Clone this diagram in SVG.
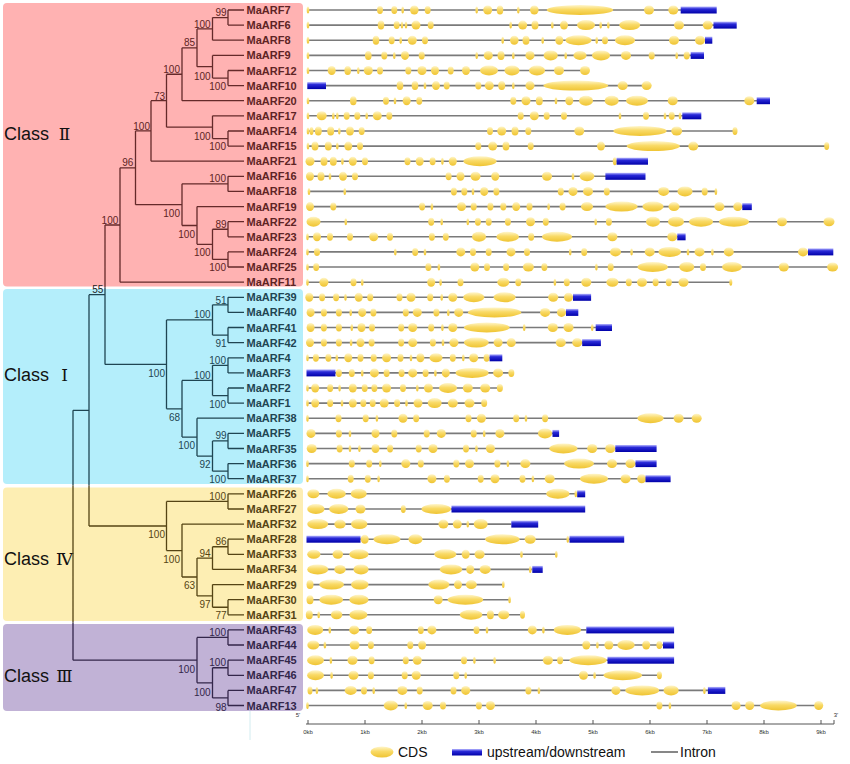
<svg xmlns="http://www.w3.org/2000/svg" width="850" height="764" viewBox="0 0 850 764">
<defs>
<linearGradient id="gc" x1="0" y1="0" x2="0" y2="1"><stop offset="0" stop-color="#fff6cc"/><stop offset="0.45" stop-color="#f9da66"/><stop offset="1" stop-color="#efc433"/></linearGradient>
<linearGradient id="gb" x1="0" y1="0" x2="0" y2="1"><stop offset="0" stop-color="#b8b8ff"/><stop offset="0.35" stop-color="#2a2ad8"/><stop offset="1" stop-color="#0000a8"/></linearGradient>
</defs>
<style>
.lb{font-family:"Liberation Sans",Arial,sans-serif;font-weight:bold;font-size:11px}
.bs{font-family:"Liberation Sans",Arial,sans-serif;font-size:10px;text-anchor:end}
.cl{font-family:"Liberation Sans",Arial,sans-serif;font-size:18px;fill:#111}
.rn{font-family:"DejaVu Serif","Liberation Serif","Noto Sans CJK SC",serif;font-size:17px;text-anchor:middle}
.k2{fill:#5e2424}.k1{fill:#1f4552}.k4{fill:#554414}.k3{fill:#33264a}
.tr{fill:none;stroke-width:1.3}
.in{stroke:#7a7a7a;stroke-width:1.6}
ellipse{fill:url(#gc)}
.ud{fill:url(#gb)}
.ax{font-family:"Liberation Sans",Arial,sans-serif;font-size:6px;fill:#333;text-anchor:middle}
.lg{font-family:"Liberation Sans",Arial,sans-serif;font-size:14px;fill:#111}
</style>
<rect width="850" height="764" fill="#fff"/>
<g id="classes">
<rect x="3" y="3" width="300" height="283.5" rx="4" fill="#ffb2b2"/>
<rect x="3" y="289" width="300" height="195" rx="4" fill="#b4eefb"/>
<rect x="3" y="487.5" width="300" height="133.5" rx="4" fill="#fdeeb3"/>
<rect x="3" y="624" width="300" height="87" rx="4" fill="#c1b2d6"/>
<text class="cl" x="4" y="139.5">Class <tspan class="rn" x="64.5">Ⅱ</tspan></text>
<text class="cl" x="4" y="381">Class <tspan class="rn" x="64.5">Ⅰ</tspan></text>
<text class="cl" x="4" y="565">Class <tspan class="rn" x="64.5">Ⅳ</tspan></text>
<text class="cl" x="4" y="682">Class <tspan class="rn" x="64.5">Ⅲ</tspan></text>
<line x1="250" y1="711" x2="250" y2="740" stroke="#d2ecf0" stroke-width="1"/>
</g>
<g id="connectors">
<path class="tr" stroke="#642a2a" d="M228 10V25.1M228 10H244M228 25.1H244M212.5 17.55V40.2M212.5 17.55H228M212.5 40.2H244M228 70.5V85.6M228 70.5H244M228 85.6H244M212.5 55.4V78.05M212.5 55.4H244M212.5 78.05H228M197 28.9V66.7M197 28.9H212.5M197 66.7H212.5M182 47.8V100.7M182 47.8H197M182 100.7H244M228 131V146.1M228 131H244M228 146.1H244M212.5 115.8V138.55M212.5 115.8H244M212.5 138.55H228M166.5 74.25V127.2M166.5 74.25H182M166.5 127.2H212.5M151 100.7V161.2M151 100.7H166.5M151 161.2H244M228 176.3V191.4M228 176.3H244M228 191.4H244M228 221.7V236.8M228 221.7H244M228 236.8H244M228 251.9V267M228 251.9H244M228 267H244M212.5 229.25V259.45M212.5 229.25H228M212.5 259.45H228M197 206.6V244.35M197 206.6H244M197 244.35H212.5M182 183.85V225.5M182 183.85H228M182 225.5H197M135.5 130.95V204.7M135.5 130.95H151M135.5 204.7H182M120 167.8V282.2M120 167.8H135.5M120 282.2H244M105 225V287.5M105 225H120"/>
<path class="tr" stroke="#1f4552" d="M105 287.5V364.4M105 364.4H166.5M228 297.3V312.4M228 297.3H244M228 312.4H244M228 327.5V342.6M228 327.5H244M228 342.6H244M212.5 304.85V335.05M212.5 304.85H228M212.5 335.05H228M228 357.8V372.9M228 357.8H244M228 372.9H244M228 388V403.1M228 388H244M228 403.1H244M212.5 365.35V395.55M212.5 365.35H228M212.5 395.55H228M228 433.4V448.5M228 433.4H244M228 448.5H244M228 463.6V478.7M228 463.6H244M228 478.7H244M212.5 440.95V471.15M212.5 440.95H228M212.5 471.15H228M197 418.2V456.05M197 418.2H244M197 456.05H212.5M182 380.45V437.1M182 380.45H212.5M182 437.1H197M166.5 319.95V408.8M166.5 319.95H212.5M166.5 408.8H182M89 294.7H105M89 294.7V485.5M73 410.35H89M73 410.35V485.5"/>
<path class="tr" stroke="#554414" d="M89 485.5V526M89 526H166.5M73 485.5V622.5M228 493.8V509M228 493.8H244M228 509H244M228 539.2V554.3M228 539.2H244M228 554.3H244M212.5 546.75V569.4M212.5 546.75H228M212.5 569.4H244M228 599.7V614.8M228 599.7H244M228 614.8H244M212.5 584.6V607.25M212.5 584.6H244M212.5 607.25H228M197 558.1V595.9M197 558.1H212.5M197 595.9H212.5M182 524.1V577M182 524.1H244M182 577H197M166.5 501.4V550.55M166.5 501.4H228M166.5 550.55H182"/>
<path class="tr" stroke="#33264a" d="M73 622.5V660.15M73 660.15H197M228 629.9V645M228 629.9H244M228 645H244M228 660.2V675.3M228 660.2H244M228 675.3H244M228 690.4V705.5M228 690.4H244M228 705.5H244M212.5 667.75V697.95M212.5 667.75H228M212.5 697.95H228M197 637.45V682.85M197 637.45H228M197 682.85H212.5"/>
</g>
<g id="bootstrap">
<g class="bs k2">
<text x="226.5" y="16">99</text><text x="210.7" y="27.8">100</text><text x="195" y="46">85</text><text x="210.7" y="79.5">100</text><text x="226" y="89.5">100</text><text x="180" y="72.5">100</text><text x="165" y="99.5">73</text><text x="150" y="129.5">100</text><text x="210.7" y="139.5">100</text><text x="226" y="150">100</text><text x="133.3" y="166">96</text><text x="226" y="182">100</text><text x="180" y="216.5">100</text><text x="195" y="237.5">100</text><text x="226.5" y="227.5">89</text><text x="210.7" y="256">100</text><text x="226" y="271">100</text><text x="118.3" y="223.5">100</text>
</g>
<text class="bs" fill="#222" x="103.3" y="292.5">55</text>
<g class="bs k1">
<text x="226.5" y="303.5">51</text><text x="210.7" y="317.5">100</text><text x="226.5" y="347">91</text><text x="165" y="377">100</text><text x="226" y="363.5">100</text><text x="210.7" y="378.5">100</text><text x="226" y="407.5">100</text><text x="180" y="421">68</text><text x="226.5" y="439.3">99</text><text x="195" y="449.3">100</text><text x="210.7" y="467.5">92</text><text x="226" y="482.5">100</text>
</g>
<g class="bs k4">
<text x="226" y="499.5">100</text><text x="165" y="537.5">100</text><text x="226.5" y="545">86</text><text x="180" y="562.5">100</text><text x="210.7" y="556.7">94</text><text x="195" y="589.3">63</text><text x="210.7" y="607.7">97</text><text x="226.5" y="619.3">77</text>
</g>
<g class="bs k3">
<text x="226" y="636">100</text><text x="195" y="672.5">100</text><text x="226" y="666">100</text><text x="210.7" y="695.5">100</text><text x="226.5" y="710.5">98</text>
</g>
</g>
<g id="genes">
<g id="MaARF7" transform="translate(0,10)"><text class="lb k2" x="246.5" y="4">MaARF7</text><line class="in" x1="308" x2="681"/><ellipse cx="308" rx="1.3" ry="3.5"/><ellipse cx="380" rx="3" ry="4"/><ellipse cx="394.3" rx="3" ry="4"/><ellipse cx="402.7" rx="1.3" ry="3.5"/><ellipse cx="414.3" rx="4.3" ry="4.5"/><ellipse cx="427.7" rx="3" ry="4"/><ellipse cx="476.7" rx="1.3" ry="3.5"/><ellipse cx="487.7" rx="4.5" ry="4.5"/><ellipse cx="500" rx="3.3" ry="4.5"/><ellipse cx="518.3" rx="1.3" ry="3.5"/><ellipse cx="534.3" rx="4.3" ry="4.5"/><ellipse cx="580" rx="33.3" ry="5"/><ellipse cx="649" rx="5" ry="4.5"/><ellipse cx="673.3" rx="5" ry="4.5"/><rect class="ud" x="680.7" y="-3.5" width="36" height="7"/></g>
<g id="MaARF6" transform="translate(0,25.1)"><text class="lb k2" x="246.5" y="4">MaARF6</text><line class="in" x1="308" x2="714"/><ellipse cx="308" rx="1.3" ry="3.5"/><ellipse cx="381" rx="3.3" ry="4.5"/><ellipse cx="396.7" rx="3" ry="4"/><ellipse cx="402" rx="1.3" ry="3.5"/><ellipse cx="406" rx="1.3" ry="3.5"/><ellipse cx="416" rx="4.5" ry="4.5"/><ellipse cx="430.7" rx="3" ry="4"/><ellipse cx="510.7" rx="1.3" ry="3.5"/><ellipse cx="522.7" rx="4.5" ry="4.5"/><ellipse cx="535" rx="3.5" ry="4.5"/><ellipse cx="552.3" rx="1.3" ry="3.5"/><ellipse cx="564" rx="4" ry="4.5"/><ellipse cx="586" rx="9" ry="5"/><ellipse cx="600.7" rx="1.3" ry="3.5"/><ellipse cx="608.3" rx="1.3" ry="3.5"/><ellipse cx="629.7" rx="10.5" ry="5"/><ellipse cx="679" rx="5" ry="4.5"/><ellipse cx="707.7" rx="5" ry="4.5"/><rect class="ud" x="713.5" y="-3.5" width="23.2" height="7"/></g>
<g id="MaARF8" transform="translate(0,40.2)"><text class="lb k2" x="246.5" y="4">MaARF8</text><line class="in" x1="308" x2="705"/><ellipse cx="308" rx="1.3" ry="3.5"/><ellipse cx="376" rx="3.3" ry="4.5"/><ellipse cx="391.7" rx="3" ry="4"/><ellipse cx="400.7" rx="1.3" ry="3.5"/><ellipse cx="412.3" rx="4.5" ry="4.5"/><ellipse cx="425" rx="3" ry="4"/><ellipse cx="502.7" rx="1.3" ry="3.5"/><ellipse cx="514.3" rx="4.3" ry="4.5"/><ellipse cx="526" rx="3.5" ry="4.5"/><ellipse cx="542.7" rx="1.3" ry="3.5"/><ellipse cx="559.3" rx="4" ry="4.5"/><ellipse cx="578.5" rx="13" ry="5"/><ellipse cx="596.7" rx="1.3" ry="3.5"/><ellipse cx="605" rx="3" ry="4"/><ellipse cx="625" rx="10" ry="5"/><ellipse cx="674" rx="5" ry="4.5"/><ellipse cx="700" rx="5" ry="4.5"/><rect class="ud" x="705" y="-3.5" width="7.3" height="7"/></g>
<g id="MaARF9" transform="translate(0,55.4)"><text class="lb k2" x="246.5" y="4">MaARF9</text><line class="in" x1="308" x2="691"/><ellipse cx="308" rx="1.3" ry="3.5"/><ellipse cx="368.3" rx="3.3" ry="4.5"/><ellipse cx="384.3" rx="3" ry="4"/><ellipse cx="394.3" rx="1.3" ry="3.5"/><ellipse cx="405" rx="4" ry="4.5"/><ellipse cx="421.7" rx="3" ry="4"/><ellipse cx="476.7" rx="1.3" ry="3.5"/><ellipse cx="488.3" rx="4.5" ry="4.5"/><ellipse cx="501" rx="3.5" ry="4.5"/><ellipse cx="513.3" rx="1.3" ry="3.5"/><ellipse cx="530" rx="4.5" ry="4.5"/><ellipse cx="550.7" rx="7" ry="5"/><ellipse cx="565.7" rx="1.3" ry="3.5"/><ellipse cx="580" rx="6.5" ry="4.5"/><ellipse cx="601" rx="9" ry="5"/><ellipse cx="626" rx="5" ry="4.5"/><ellipse cx="651.7" rx="3" ry="4"/><ellipse cx="676.7" rx="1.3" ry="3.5"/><ellipse cx="686.7" rx="3" ry="4"/><rect class="ud" x="690.7" y="-3.5" width="13.3" height="7"/></g>
<g id="MaARF12" transform="translate(0,70.5)"><text class="lb k2" x="246.5" y="4">MaARF12</text><line class="in" x1="308" x2="588"/><ellipse cx="308" rx="1.3" ry="3.5"/><ellipse cx="331.7" rx="4" ry="4.5"/><ellipse cx="347.7" rx="3.3" ry="4.5"/><ellipse cx="358.3" rx="1.3" ry="3.5"/><ellipse cx="368.3" rx="4.5" ry="4.5"/><ellipse cx="380" rx="3" ry="4"/><ellipse cx="408.3" rx="3" ry="4"/><ellipse cx="422" rx="4.5" ry="4.5"/><ellipse cx="435" rx="4" ry="4.5"/><ellipse cx="450.7" rx="3" ry="4"/><ellipse cx="466" rx="4" ry="4.5"/><ellipse cx="489" rx="9" ry="5"/><ellipse cx="512" rx="7.5" ry="5"/><ellipse cx="537" rx="8" ry="5"/><ellipse cx="559" rx="5" ry="4.5"/><ellipse cx="585" rx="5" ry="4.5"/></g>
<g id="MaARF10" transform="translate(0,85.6)"><text class="lb k2" x="246.5" y="4">MaARF10</text><line class="in" x1="308" x2="647"/><rect class="ud" x="307.3" y="-3.5" width="18.7" height="7"/><ellipse cx="400" rx="3.3" ry="4.5"/><ellipse cx="415" rx="3.3" ry="4.5"/><ellipse cx="425" rx="1.3" ry="3.5"/><ellipse cx="436" rx="4" ry="4.5"/><ellipse cx="446.7" rx="3" ry="4"/><ellipse cx="478.3" rx="3" ry="4"/><ellipse cx="489.3" rx="4.5" ry="4.5"/><ellipse cx="501.7" rx="3.5" ry="4.5"/><ellipse cx="513.3" rx="1.3" ry="3.5"/><ellipse cx="530" rx="4.5" ry="4.5"/><ellipse cx="575.8" rx="32.5" ry="5"/><ellipse cx="622.7" rx="5" ry="4.5"/><ellipse cx="646.7" rx="5" ry="4.5"/></g>
<g id="MaARF20" transform="translate(0,100.7)"><text class="lb k2" x="246.5" y="4">MaARF20</text><line class="in" x1="308" x2="757"/><ellipse cx="308" rx="1.3" ry="3.5"/><ellipse cx="353.3" rx="3.3" ry="4.5"/><ellipse cx="386" rx="3" ry="4"/><ellipse cx="395" rx="1.3" ry="3.5"/><ellipse cx="406.7" rx="4" ry="4.5"/><ellipse cx="419.3" rx="3" ry="4"/><ellipse cx="513.3" rx="3" ry="4"/><ellipse cx="526" rx="4.5" ry="4.5"/><ellipse cx="539.3" rx="3.5" ry="4.5"/><ellipse cx="556" rx="1.3" ry="3.5"/><ellipse cx="569.3" rx="4" ry="4.5"/><ellipse cx="586" rx="7" ry="5"/><ellipse cx="611.7" rx="7" ry="5"/><ellipse cx="637" rx="11" ry="5"/><ellipse cx="672.7" rx="5" ry="4.5"/><ellipse cx="749.3" rx="5" ry="4.5"/><rect class="ud" x="756.7" y="-3.5" width="13.3" height="7"/></g>
<g id="MaARF17" transform="translate(0,115.8)"><text class="lb k2" x="246.5" y="4">MaARF17</text><line class="in" x1="308" x2="683"/><ellipse cx="308" rx="1.3" ry="3.5"/><ellipse cx="321.7" rx="5" ry="4.5"/><ellipse cx="333.3" rx="1.3" ry="3.5"/><ellipse cx="337.3" rx="1.3" ry="3.5"/><ellipse cx="346.7" rx="3" ry="4"/><ellipse cx="357.3" rx="3" ry="4"/><ellipse cx="366.7" rx="1.3" ry="3.5"/><ellipse cx="377.3" rx="4.5" ry="4.5"/><ellipse cx="389.3" rx="3" ry="4"/><ellipse cx="520.7" rx="3" ry="4"/><ellipse cx="534.3" rx="4.5" ry="4.5"/><ellipse cx="546.7" rx="3" ry="4"/><ellipse cx="564" rx="3" ry="4"/><ellipse cx="620" rx="1.3" ry="3.5"/><ellipse cx="646" rx="3" ry="4"/><ellipse cx="665" rx="1.3" ry="3.5"/><ellipse cx="671.7" rx="3" ry="4"/><ellipse cx="680" rx="1.3" ry="3.5"/><rect class="ud" x="682.3" y="-3.5" width="19" height="7"/></g>
<g id="MaARF14" transform="translate(0,131)"><text class="lb k2" x="246.5" y="4">MaARF14</text><line class="in" x1="308" x2="735"/><ellipse cx="308" rx="1.3" ry="3.5"/><ellipse cx="311.5" rx="2" ry="4"/><ellipse cx="318.3" rx="3.5" ry="4.5"/><ellipse cx="330.7" rx="3.5" ry="4.5"/><ellipse cx="339.3" rx="1.3" ry="3.5"/><ellipse cx="350" rx="4" ry="4.5"/><ellipse cx="361.7" rx="3" ry="4"/><ellipse cx="490" rx="3" ry="4"/><ellipse cx="501.7" rx="4.5" ry="4.5"/><ellipse cx="515" rx="3.5" ry="4.5"/><ellipse cx="528.3" rx="3" ry="4"/><ellipse cx="579.3" rx="5" ry="4.5"/><ellipse cx="640" rx="26.7" ry="5"/><ellipse cx="676.7" rx="5.5" ry="4.5"/><ellipse cx="735" rx="2.5" ry="4"/></g>
<g id="MaARF15" transform="translate(0,146.1)"><text class="lb k2" x="246.5" y="4">MaARF15</text><line class="in" x1="308" x2="826.7"/><ellipse cx="308" rx="1.3" ry="3.5"/><ellipse cx="315" rx="3.5" ry="4.5"/><ellipse cx="328.3" rx="3.5" ry="4.5"/><ellipse cx="337.3" rx="1.3" ry="3.5"/><ellipse cx="348.3" rx="4" ry="4.5"/><ellipse cx="360" rx="3" ry="4"/><ellipse cx="478.3" rx="3" ry="4"/><ellipse cx="492.7" rx="4.5" ry="4.5"/><ellipse cx="506" rx="3.5" ry="4.5"/><ellipse cx="530.7" rx="3" ry="4"/><ellipse cx="601" rx="4" ry="4.5"/><ellipse cx="653.3" rx="26.7" ry="5"/><ellipse cx="693.3" rx="5" ry="4.5"/><ellipse cx="826.7" rx="2.5" ry="4"/></g>
<g id="MaARF21" transform="translate(0,161.2)"><text class="lb k2" x="246.5" y="4">MaARF21</text><line class="in" x1="307" x2="617"/><ellipse cx="310" rx="4.5" ry="4.5"/><ellipse cx="324" rx="3.5" ry="4.5"/><ellipse cx="333.3" rx="3.5" ry="4.5"/><ellipse cx="342.4" rx="1.3" ry="3.5"/><ellipse cx="352.8" rx="4" ry="4.5"/><ellipse cx="365" rx="3" ry="4"/><ellipse cx="407.5" rx="3" ry="4"/><ellipse cx="419.7" rx="4" ry="4.5"/><ellipse cx="432.6" rx="3" ry="4"/><ellipse cx="442.4" rx="1.3" ry="3.5"/><ellipse cx="452.8" rx="4" ry="4.5"/><ellipse cx="480" rx="16.5" ry="5"/><ellipse cx="614.8" rx="2" ry="4"/><rect class="ud" x="616.6" y="-3.5" width="31.4" height="7"/></g>
<g id="MaARF16" transform="translate(0,176.3)"><text class="lb k2" x="246.5" y="4">MaARF16</text><line class="in" x1="307" x2="606"/><ellipse cx="310" rx="4" ry="4.5"/><ellipse cx="321" rx="3.5" ry="4.5"/><ellipse cx="330" rx="1.3" ry="3.5"/><ellipse cx="343" rx="4" ry="4.5"/><ellipse cx="355" rx="3" ry="4"/><ellipse cx="448.6" rx="3" ry="4"/><ellipse cx="460.5" rx="4" ry="4.5"/><ellipse cx="475.5" rx="5" ry="4.5"/><ellipse cx="495.3" rx="4" ry="4.5"/><ellipse cx="547" rx="5" ry="4.5"/><ellipse cx="573" rx="1.3" ry="3.5"/><ellipse cx="587" rx="7.3" ry="5"/><rect class="ud" x="605.4" y="-3.5" width="40.1" height="7"/></g>
<g id="MaARF18" transform="translate(0,191.4)"><text class="lb k2" x="246.5" y="4">MaARF18</text><line class="in" x1="308" x2="716"/><ellipse cx="309" rx="1.3" ry="3.5"/><ellipse cx="344.8" rx="1.3" ry="3.5"/><ellipse cx="453.9" rx="3" ry="4"/><ellipse cx="464.3" rx="3" ry="4"/><ellipse cx="473" rx="1.3" ry="3.5"/><ellipse cx="484.2" rx="4" ry="4.5"/><ellipse cx="496.4" rx="3" ry="4"/><ellipse cx="560.8" rx="3" ry="4"/><ellipse cx="573" rx="4.5" ry="4.5"/><ellipse cx="588" rx="5" ry="4.5"/><ellipse cx="606.8" rx="3" ry="4"/><ellipse cx="663.6" rx="5.5" ry="4.5"/><ellipse cx="685" rx="7.5" ry="5"/><ellipse cx="704.7" rx="3" ry="4"/><ellipse cx="715.9" rx="1.3" ry="3.5"/></g>
<g id="MaARF19" transform="translate(0,206.6)"><text class="lb k2" x="246.5" y="4">MaARF19</text><line class="in" x1="307" x2="743"/><ellipse cx="310" rx="4" ry="4.5"/><ellipse cx="333.3" rx="3" ry="4"/><ellipse cx="422.1" rx="3" ry="4"/><ellipse cx="431.9" rx="1.3" ry="3.5"/><ellipse cx="461.5" rx="4.5" ry="4.5"/><ellipse cx="473.7" rx="3" ry="4"/><ellipse cx="490.4" rx="3" ry="4"/><ellipse cx="503.3" rx="3" ry="4"/><ellipse cx="516.2" rx="4" ry="4.5"/><ellipse cx="529.5" rx="3" ry="4"/><ellipse cx="548.6" rx="1.3" ry="3.5"/><ellipse cx="562.6" rx="3" ry="4"/><ellipse cx="587" rx="6" ry="4.5"/><ellipse cx="621.5" rx="16" ry="5"/><ellipse cx="653" rx="10.5" ry="5"/><ellipse cx="674" rx="5.5" ry="4.5"/><ellipse cx="719.4" rx="5" ry="4.5"/><ellipse cx="737.8" rx="4.5" ry="4.5"/><rect class="ud" x="742.3" y="-3.5" width="9.5" height="7"/></g>
<g id="MaARF22" transform="translate(0,221.7)"><text class="lb k2" x="246.5" y="4">MaARF22</text><line class="in" x1="307" x2="830"/><ellipse cx="313.5" rx="7" ry="5"/><ellipse cx="345.8" rx="1.3" ry="3.5"/><ellipse cx="431.2" rx="3" ry="4"/><ellipse cx="441.7" rx="1.3" ry="3.5"/><ellipse cx="467.8" rx="1.3" ry="3.5"/><ellipse cx="477.9" rx="3" ry="4"/><ellipse cx="488.7" rx="3" ry="4"/><ellipse cx="507.9" rx="3" ry="4"/><ellipse cx="530.5" rx="4.5" ry="4.5"/><ellipse cx="545.8" rx="3" ry="4"/><ellipse cx="595.7" rx="1.3" ry="3.5"/><ellipse cx="608.9" rx="3" ry="4"/><ellipse cx="653" rx="7" ry="5"/><ellipse cx="676" rx="8" ry="5"/><ellipse cx="701" rx="12" ry="5"/><ellipse cx="734" rx="15" ry="5"/><ellipse cx="782" rx="5" ry="4.5"/><ellipse cx="829" rx="5.5" ry="4.5"/></g>
<g id="MaARF23" transform="translate(0,236.8)"><text class="lb k2" x="246.5" y="4">MaARF23</text><line class="in" x1="307.5" x2="678"/><ellipse cx="307.5" rx="1.3" ry="3.5"/><ellipse cx="317" rx="4" ry="4.5"/><ellipse cx="330" rx="3" ry="4"/><ellipse cx="350" rx="3" ry="4"/><ellipse cx="373.7" rx="4.5" ry="4.5"/><ellipse cx="390" rx="3" ry="4"/><ellipse cx="431.9" rx="3" ry="4"/><ellipse cx="445.8" rx="3" ry="4"/><ellipse cx="479" rx="7" ry="5"/><ellipse cx="507.7" rx="11.3" ry="5"/><ellipse cx="531.2" rx="3" ry="4"/><ellipse cx="557" rx="15" ry="5"/><ellipse cx="612.4" rx="5" ry="4.5"/><ellipse cx="672.3" rx="5" ry="4.5"/><rect class="ud" x="677.3" y="-3.5" width="8.3" height="7"/></g>
<g id="MaARF24" transform="translate(0,251.9)"><text class="lb k2" x="246.5" y="4">MaARF24</text><line class="in" x1="307.5" x2="809"/><ellipse cx="307.5" rx="1.3" ry="3.5"/><ellipse cx="317" rx="3" ry="4"/><ellipse cx="395.3" rx="1.3" ry="3.5"/><ellipse cx="415.2" rx="3" ry="4"/><ellipse cx="425" rx="1.3" ry="3.5"/><ellipse cx="460.8" rx="4.5" ry="4.5"/><ellipse cx="473" rx="3" ry="4"/><ellipse cx="488.7" rx="3" ry="4"/><ellipse cx="511" rx="4.5" ry="4.5"/><ellipse cx="527" rx="3" ry="4"/><ellipse cx="570.2" rx="1.3" ry="3.5"/><ellipse cx="584.2" rx="3" ry="4"/><ellipse cx="615.5" rx="5.5" ry="4.5"/><ellipse cx="631.6" rx="1.3" ry="3.5"/><ellipse cx="649.7" rx="5" ry="4.5"/><ellipse cx="669.7" rx="11.3" ry="5"/><ellipse cx="688" rx="1.3" ry="3.5"/><ellipse cx="699.5" rx="5" ry="4.5"/><ellipse cx="712.4" rx="1.3" ry="3.5"/><ellipse cx="728.8" rx="5" ry="4.5"/><ellipse cx="803" rx="5" ry="4.5"/><rect class="ud" x="808" y="-3.5" width="25.3" height="7"/></g>
<g id="MaARF25" transform="translate(0,267)"><text class="lb k2" x="246.5" y="4">MaARF25</text><line class="in" x1="307.5" x2="833"/><ellipse cx="307.5" rx="1.3" ry="3.5"/><ellipse cx="316.2" rx="3" ry="4"/><ellipse cx="428.4" rx="3" ry="4"/><ellipse cx="438.9" rx="1.3" ry="3.5"/><ellipse cx="474.8" rx="4.5" ry="4.5"/><ellipse cx="487" rx="3" ry="4"/><ellipse cx="506.1" rx="3" ry="4"/><ellipse cx="528.4" rx="5.5" ry="4.5"/><ellipse cx="544.4" rx="3" ry="4"/><ellipse cx="596.4" rx="1.3" ry="3.5"/><ellipse cx="610.7" rx="3" ry="4"/><ellipse cx="652.7" rx="15.2" ry="5"/><ellipse cx="686.8" rx="7.5" ry="5"/><ellipse cx="703" rx="3" ry="4"/><ellipse cx="732" rx="10" ry="5"/><ellipse cx="783.8" rx="5" ry="4.5"/><ellipse cx="832.6" rx="5.5" ry="4.5"/></g>
<g id="MaARF11" transform="translate(0,282.2)"><text class="lb k2" x="246.5" y="4">MaARF11</text><line class="in" x1="307.5" x2="731"/><ellipse cx="307.5" rx="1.3" ry="3.5"/><ellipse cx="323.9" rx="4.5" ry="4.5"/><ellipse cx="353.5" rx="3" ry="4"/><ellipse cx="362.2" rx="1.3" ry="3.5"/><ellipse cx="431.2" rx="4" ry="4.5"/><ellipse cx="440.6" rx="1.3" ry="3.5"/><ellipse cx="460.5" rx="3" ry="4"/><ellipse cx="503.3" rx="6" ry="4.5"/><ellipse cx="518.3" rx="3" ry="4"/><ellipse cx="554.9" rx="1.3" ry="3.5"/><ellipse cx="566.8" rx="3" ry="4"/><ellipse cx="586.3" rx="5" ry="4.5"/><ellipse cx="612.4" rx="6" ry="4.5"/><ellipse cx="628.8" rx="3" ry="4"/><ellipse cx="642" rx="5" ry="4.5"/><ellipse cx="655.6" rx="3" ry="4"/><ellipse cx="668.8" rx="3" ry="4"/><ellipse cx="683.5" rx="5" ry="4.5"/><ellipse cx="730.8" rx="1.5" ry="3.5"/></g>
<g id="MaARF39" transform="translate(0,297.3)"><text class="lb k1" x="246.5" y="4">MaARF39</text><line class="in" x1="307" x2="574"/><ellipse cx="309.3" rx="4" ry="4.5"/><ellipse cx="322.1" rx="3" ry="4"/><ellipse cx="336.1" rx="3" ry="4"/><ellipse cx="345.5" rx="1.3" ry="3.5"/><ellipse cx="358.7" rx="4" ry="4.5"/><ellipse cx="370.2" rx="3" ry="4"/><ellipse cx="399.5" rx="3" ry="4"/><ellipse cx="411" rx="4.5" ry="4.5"/><ellipse cx="430.2" rx="3" ry="4"/><ellipse cx="441.7" rx="1.3" ry="3.5"/><ellipse cx="452.8" rx="4.5" ry="4.5"/><ellipse cx="473.8" rx="10.5" ry="5"/><ellipse cx="504.6" rx="11" ry="5"/><ellipse cx="553.2" rx="5" ry="4.5"/><ellipse cx="568.5" rx="4.5" ry="4.5"/><rect class="ud" x="573" y="-3.5" width="18.1" height="7"/></g>
<g id="MaARF40" transform="translate(0,312.4)"><text class="lb k1" x="246.5" y="4">MaARF40</text><line class="in" x1="307" x2="567"/><ellipse cx="310.6" rx="4" ry="4.5"/><ellipse cx="323.9" rx="3" ry="4"/><ellipse cx="338.9" rx="3" ry="4"/><ellipse cx="350.7" rx="1.3" ry="3.5"/><ellipse cx="362.2" rx="4" ry="4.5"/><ellipse cx="373.4" rx="3" ry="4"/><ellipse cx="405.8" rx="3" ry="4"/><ellipse cx="417.3" rx="4.5" ry="4.5"/><ellipse cx="436.4" rx="3" ry="4"/><ellipse cx="448.3" rx="1.3" ry="3.5"/><ellipse cx="458.7" rx="4.5" ry="4.5"/><ellipse cx="494.6" rx="26.8" ry="5"/><ellipse cx="545.1" rx="5" ry="4.5"/><ellipse cx="561.5" rx="4.5" ry="4.5"/><rect class="ud" x="566" y="-3.5" width="12.3" height="7"/></g>
<g id="MaARF41" transform="translate(0,327.5)"><text class="lb k1" x="246.5" y="4">MaARF41</text><line class="in" x1="307" x2="596"/><ellipse cx="310.6" rx="4" ry="4.5"/><ellipse cx="323.9" rx="3" ry="4"/><ellipse cx="338.9" rx="3" ry="4"/><ellipse cx="351.8" rx="1.3" ry="3.5"/><ellipse cx="361.5" rx="4" ry="4.5"/><ellipse cx="372" rx="3" ry="4"/><ellipse cx="401.2" rx="3" ry="4"/><ellipse cx="412.7" rx="4.5" ry="4.5"/><ellipse cx="431.2" rx="3" ry="4"/><ellipse cx="442.4" rx="1.3" ry="3.5"/><ellipse cx="452.8" rx="4.5" ry="4.5"/><ellipse cx="486.8" rx="22.8" ry="5"/><ellipse cx="524.2" rx="1.3" ry="3.5"/><ellipse cx="552.8" rx="5" ry="4.5"/><ellipse cx="568.5" rx="5" ry="4.5"/><ellipse cx="592.2" rx="1.3" ry="3.5"/><rect class="ud" x="595.7" y="-3.5" width="16.3" height="7"/></g>
<g id="MaARF42" transform="translate(0,342.6)"><text class="lb k1" x="246.5" y="4">MaARF42</text><line class="in" x1="307" x2="583"/><ellipse cx="310" rx="4" ry="4.5"/><ellipse cx="323.9" rx="3" ry="4"/><ellipse cx="338.9" rx="3" ry="4"/><ellipse cx="351.1" rx="1.3" ry="3.5"/><ellipse cx="360.5" rx="4" ry="4.5"/><ellipse cx="371.6" rx="3" ry="4"/><ellipse cx="401.2" rx="3" ry="4"/><ellipse cx="412.7" rx="4.5" ry="4.5"/><ellipse cx="432.9" rx="3" ry="4"/><ellipse cx="443" rx="1.3" ry="3.5"/><ellipse cx="453.9" rx="4.5" ry="4.5"/><ellipse cx="476.3" rx="12.3" ry="5"/><ellipse cx="498.1" rx="4.5" ry="4.5"/><ellipse cx="511.3" rx="4.5" ry="4.5"/><ellipse cx="560.8" rx="5" ry="4.5"/><ellipse cx="577.2" rx="5" ry="4.5"/><rect class="ud" x="582.2" y="-3.5" width="18.7" height="7"/></g>
<g id="MaARF4" transform="translate(0,357.8)"><text class="lb k1" x="246.5" y="4">MaARF4</text><line class="in" x1="307.5" x2="490"/><ellipse cx="307.5" rx="1.3" ry="3.5"/><ellipse cx="315.9" rx="3" ry="4"/><ellipse cx="328.4" rx="3" ry="4"/><ellipse cx="336.8" rx="1.3" ry="3.5"/><ellipse cx="348.3" rx="4" ry="4.5"/><ellipse cx="360.5" rx="3" ry="4"/><ellipse cx="373.7" rx="3" ry="4"/><ellipse cx="386.6" rx="4.5" ry="4.5"/><ellipse cx="400.5" rx="3" ry="4"/><ellipse cx="411" rx="1.3" ry="3.5"/><ellipse cx="420.4" rx="4" ry="4.5"/><ellipse cx="436" rx="6.5" ry="4.5"/><ellipse cx="452.8" rx="3" ry="4"/><ellipse cx="463.3" rx="1.3" ry="3.5"/><ellipse cx="473.7" rx="4.5" ry="4.5"/><ellipse cx="486.6" rx="3" ry="4"/><rect class="ud" x="489.6" y="-3.5" width="12.7" height="7"/></g>
<g id="MaARF3" transform="translate(0,372.9)"><text class="lb k1" x="246.5" y="4">MaARF3</text><line class="in" x1="307" x2="511"/><rect class="ud" x="306.5" y="-3.5" width="28.9" height="7"/><ellipse cx="338.9" rx="3" ry="4"/><ellipse cx="351.8" rx="3" ry="4"/><ellipse cx="362.2" rx="1.3" ry="3.5"/><ellipse cx="374.4" rx="4.5" ry="4.5"/><ellipse cx="386.6" rx="3" ry="4"/><ellipse cx="401.6" rx="3" ry="4"/><ellipse cx="412.7" rx="4.5" ry="4.5"/><ellipse cx="425.6" rx="3" ry="4"/><ellipse cx="435.4" rx="1.3" ry="3.5"/><ellipse cx="445.8" rx="4" ry="4.5"/><ellipse cx="472.1" rx="16.5" ry="5"/><ellipse cx="498.1" rx="5" ry="4.5"/><ellipse cx="511.3" rx="3" ry="4"/></g>
<g id="MaARF2" transform="translate(0,388)"><text class="lb k1" x="246.5" y="4">MaARF2</text><line class="in" x1="307.5" x2="500"/><ellipse cx="307.5" rx="1.3" ry="3.5"/><ellipse cx="315.2" rx="4" ry="4.5"/><ellipse cx="330.2" rx="3" ry="4"/><ellipse cx="339.6" rx="1.3" ry="3.5"/><ellipse cx="352.8" rx="4" ry="4.5"/><ellipse cx="364.7" rx="3" ry="4"/><ellipse cx="374.4" rx="3" ry="4"/><ellipse cx="386.6" rx="4.5" ry="4.5"/><ellipse cx="403" rx="3" ry="4"/><ellipse cx="417.3" rx="1.3" ry="3.5"/><ellipse cx="428.4" rx="4.5" ry="4.5"/><ellipse cx="448" rx="9" ry="5"/><ellipse cx="467.8" rx="5" ry="4.5"/><ellipse cx="485.2" rx="5" ry="4.5"/><ellipse cx="499.9" rx="3" ry="4"/></g>
<g id="MaARF1" transform="translate(0,403.1)"><text class="lb k1" x="246.5" y="4">MaARF1</text><line class="in" x1="307.5" x2="484"/><ellipse cx="307.5" rx="1.3" ry="3.5"/><ellipse cx="315.2" rx="4" ry="4.5"/><ellipse cx="330.2" rx="3" ry="4"/><ellipse cx="342" rx="1.3" ry="3.5"/><ellipse cx="352.8" rx="4" ry="4.5"/><ellipse cx="363.3" rx="3" ry="4"/><ellipse cx="372.7" rx="3" ry="4"/><ellipse cx="384.2" rx="4.5" ry="4.5"/><ellipse cx="397.1" rx="3" ry="4"/><ellipse cx="406.5" rx="1.3" ry="3.5"/><ellipse cx="418" rx="4.5" ry="4.5"/><ellipse cx="434.7" rx="7" ry="5"/><ellipse cx="452.8" rx="5" ry="4.5"/><ellipse cx="469.5" rx="5" ry="4.5"/><ellipse cx="484.2" rx="3" ry="4"/></g>
<g id="MaARF38" transform="translate(0,418.2)"><text class="lb k1" x="246.5" y="4">MaARF38</text><line class="in" x1="307.5" x2="697"/><ellipse cx="307.5" rx="1.3" ry="3.5"/><ellipse cx="338.5" rx="3" ry="4"/><ellipse cx="365.7" rx="3" ry="4"/><ellipse cx="376.9" rx="1.3" ry="3.5"/><ellipse cx="403" rx="4.5" ry="4.5"/><ellipse cx="416.2" rx="3" ry="4"/><ellipse cx="468.5" rx="3" ry="4"/><ellipse cx="481.4" rx="4.5" ry="4.5"/><ellipse cx="516.2" rx="3" ry="4"/><ellipse cx="526" rx="1.3" ry="3.5"/><ellipse cx="545.1" rx="3" ry="4"/><ellipse cx="650.5" rx="13" ry="5"/><ellipse cx="678.6" rx="5" ry="4.5"/><ellipse cx="696.7" rx="5" ry="4.5"/></g>
<g id="MaARF5" transform="translate(0,433.4)"><text class="lb k1" x="246.5" y="4">MaARF5</text><line class="in" x1="307" x2="553"/><ellipse cx="311" rx="4.5" ry="4.5"/><ellipse cx="338.9" rx="3" ry="4"/><ellipse cx="350" rx="1.3" ry="3.5"/><ellipse cx="375.5" rx="4" ry="4.5"/><ellipse cx="394.3" rx="3" ry="4"/><ellipse cx="426.7" rx="3" ry="4"/><ellipse cx="441.3" rx="4.5" ry="4.5"/><ellipse cx="473.7" rx="3" ry="4"/><ellipse cx="484.2" rx="1.3" ry="3.5"/><ellipse cx="499.9" rx="4.5" ry="4.5"/><ellipse cx="545" rx="7" ry="5"/><rect class="ud" x="552.5" y="-3.5" width="6.6" height="7"/></g>
<g id="MaARF35" transform="translate(0,448.5)"><text class="lb k1" x="246.5" y="4">MaARF35</text><line class="in" x1="307" x2="616"/><ellipse cx="311.7" rx="5" ry="4.5"/><ellipse cx="339.6" rx="3" ry="4"/><ellipse cx="350" rx="1.3" ry="3.5"/><ellipse cx="359.4" rx="1.3" ry="3.5"/><ellipse cx="375.5" rx="4" ry="4.5"/><ellipse cx="390.1" rx="3" ry="4"/><ellipse cx="418.7" rx="3" ry="4"/><ellipse cx="433" rx="4.5" ry="4.5"/><ellipse cx="466" rx="3" ry="4"/><ellipse cx="476.5" rx="1.3" ry="3.5"/><ellipse cx="490.4" rx="4.5" ry="4.5"/><ellipse cx="563.4" rx="14" ry="5"/><ellipse cx="592.2" rx="5" ry="4.5"/><ellipse cx="610.3" rx="5" ry="4.5"/><rect class="ud" x="615.3" y="-3.5" width="41.3" height="7"/></g>
<g id="MaARF36" transform="translate(0,463.6)"><text class="lb k1" x="246.5" y="4">MaARF36</text><line class="in" x1="307.5" x2="636"/><ellipse cx="307.5" rx="1.3" ry="3.5"/><ellipse cx="351.8" rx="3" ry="4"/><ellipse cx="369.2" rx="3" ry="4"/><ellipse cx="380.3" rx="1.3" ry="3.5"/><ellipse cx="405.8" rx="4.5" ry="4.5"/><ellipse cx="420.8" rx="3" ry="4"/><ellipse cx="456.3" rx="3" ry="4"/><ellipse cx="469.5" rx="4.5" ry="4.5"/><ellipse cx="497.4" rx="3" ry="4"/><ellipse cx="507.9" rx="1.3" ry="3.5"/><ellipse cx="525.3" rx="5" ry="4.5"/><ellipse cx="579" rx="14.8" ry="5"/><ellipse cx="612" rx="5" ry="4.5"/><ellipse cx="630.5" rx="5" ry="4.5"/><rect class="ud" x="635.5" y="-3.5" width="21.1" height="7"/></g>
<g id="MaARF37" transform="translate(0,478.7)"><text class="lb k1" x="246.5" y="4">MaARF37</text><line class="in" x1="307.5" x2="646"/><ellipse cx="307.5" rx="1.3" ry="3.5"/><ellipse cx="350.7" rx="3" ry="4"/><ellipse cx="367.8" rx="3" ry="4"/><ellipse cx="378.6" rx="1.3" ry="3.5"/><ellipse cx="431.9" rx="4.5" ry="4.5"/><ellipse cx="446.9" rx="3" ry="4"/><ellipse cx="480.7" rx="3" ry="4"/><ellipse cx="495" rx="4.5" ry="4.5"/><ellipse cx="522.5" rx="3" ry="4"/><ellipse cx="532.9" rx="1.3" ry="3.5"/><ellipse cx="549.7" rx="5" ry="4.5"/><ellipse cx="594" rx="14" ry="5"/><ellipse cx="625.6" rx="5" ry="4.5"/><ellipse cx="641.7" rx="4.5" ry="4.5"/><rect class="ud" x="645.5" y="-3.5" width="25.1" height="7"/></g>
<g id="MaARF26" transform="translate(0,493.8)"><text class="lb k4" x="246.5" y="4">MaARF26</text><line class="in" x1="308" x2="577"/><ellipse cx="313.4" rx="6" ry="4.5"/><ellipse cx="336.6" rx="9.2" ry="5"/><ellipse cx="358.7" rx="8" ry="5"/><ellipse cx="557.9" rx="11.7" ry="5"/><ellipse cx="575.8" rx="1.3" ry="3.5"/><rect class="ud" x="577.2" y="-3.5" width="8" height="7"/></g>
<g id="MaARF27" transform="translate(0,509)"><text class="lb k4" x="246.5" y="4">MaARF27</text><line class="in" x1="308" x2="452"/><ellipse cx="315.9" rx="8.7" ry="5"/><ellipse cx="338.7" rx="9.6" ry="5"/><ellipse cx="360.5" rx="5" ry="4.5"/><ellipse cx="403.3" rx="2.5" ry="4"/><ellipse cx="436.3" rx="14.8" ry="5"/><rect class="ud" x="451.5" y="-3.5" width="133.7" height="7"/></g>
<g id="MaARF32" transform="translate(0,524.1)"><text class="lb k4" x="246.5" y="4">MaARF32</text><line class="in" x1="308" x2="511.3"/><ellipse cx="317.7" rx="10.5" ry="5"/><ellipse cx="340" rx="5.7" ry="4.5"/><ellipse cx="359.2" rx="8.2" ry="5"/><ellipse cx="443.4" rx="5" ry="4.5"/><ellipse cx="457.3" rx="4.5" ry="4.5"/><ellipse cx="467.8" rx="1.3" ry="3.5"/><ellipse cx="480.7" rx="7" ry="5"/><rect class="ud" x="511.3" y="-3.5" width="26.9" height="7"/></g>
<g id="MaARF28" transform="translate(0,539.2)"><text class="lb k4" x="246.5" y="4">MaARF28</text><line class="in" x1="308" x2="570"/><rect class="ud" x="306.5" y="-3.5" width="54" height="7"/><ellipse cx="364.7" rx="4" ry="4.5"/><ellipse cx="387" rx="13.4" ry="5"/><ellipse cx="415.5" rx="7" ry="5"/><ellipse cx="502.4" rx="17.2" ry="5"/><ellipse cx="530.2" rx="5.5" ry="4.5"/><ellipse cx="567.8" rx="1.3" ry="3.5"/><rect class="ud" x="569.5" y="-3.5" width="54.7" height="7"/></g>
<g id="MaARF33" transform="translate(0,554.3)"><text class="lb k4" x="246.5" y="4">MaARF33</text><line class="in" x1="308" x2="556.3"/><ellipse cx="313.8" rx="6.6" ry="4.5"/><ellipse cx="337.8" rx="5.2" ry="4.5"/><ellipse cx="358.9" rx="9.6" ry="5"/><ellipse cx="445.3" rx="11" ry="5"/><ellipse cx="465.7" rx="4" ry="4.5"/><ellipse cx="479.6" rx="5" ry="4.5"/><ellipse cx="521.5" rx="1.3" ry="3.5"/><ellipse cx="556.3" rx="1.3" ry="3.5"/></g>
<g id="MaARF34" transform="translate(0,569.4)"><text class="lb k4" x="246.5" y="4">MaARF34</text><line class="in" x1="308" x2="532.3"/><ellipse cx="317.7" rx="10.5" ry="5"/><ellipse cx="340" rx="5.7" ry="4.5"/><ellipse cx="361" rx="7.5" ry="5"/><ellipse cx="451" rx="11.2" ry="5"/><ellipse cx="470.2" rx="4" ry="4.5"/><ellipse cx="485.2" rx="5.5" ry="4.5"/><ellipse cx="530.2" rx="1.3" ry="3.5"/><rect class="ud" x="532.3" y="-3.5" width="10.4" height="7"/></g>
<g id="MaARF29" transform="translate(0,584.6)"><text class="lb k4" x="246.5" y="4">MaARF29</text><line class="in" x1="308" x2="503.3"/><ellipse cx="310" rx="3.5" ry="4.5"/><ellipse cx="331.6" rx="12.2" ry="5"/><ellipse cx="359.8" rx="8.7" ry="5"/><ellipse cx="438.9" rx="10.5" ry="5"/><ellipse cx="458" rx="4" ry="4.5"/><ellipse cx="471.3" rx="5.5" ry="4.5"/><ellipse cx="503.3" rx="1.3" ry="3.5"/></g>
<g id="MaARF30" transform="translate(0,599.7)"><text class="lb k4" x="246.5" y="4">MaARF30</text><line class="in" x1="308" x2="509.6"/><ellipse cx="310" rx="3.5" ry="4.5"/><ellipse cx="331.2" rx="11.8" ry="5"/><ellipse cx="358.9" rx="9.6" ry="5"/><ellipse cx="438.2" rx="4.5" ry="4.5"/><ellipse cx="465.4" rx="17.8" ry="5"/><ellipse cx="509.6" rx="1.3" ry="3.5"/></g>
<g id="MaARF31" transform="translate(0,614.8)"><text class="lb k4" x="246.5" y="4">MaARF31</text><line class="in" x1="307" x2="522.5"/><ellipse cx="309.3" rx="3.5" ry="4.5"/><ellipse cx="318.7" rx="1.3" ry="3.5"/><ellipse cx="336.6" rx="5.7" ry="4.5"/><ellipse cx="358.4" rx="9" ry="5"/><ellipse cx="471.1" rx="11.3" ry="5"/><ellipse cx="490.4" rx="3.5" ry="4.5"/><ellipse cx="503.7" rx="5.6" ry="4.5"/><ellipse cx="522.5" rx="2.5" ry="4"/></g>
<g id="MaARF43" transform="translate(0,629.9)"><text class="lb k3" x="246.5" y="4">MaARF43</text><line class="in" x1="308" x2="586.3"/><ellipse cx="315.2" rx="8" ry="5"/><ellipse cx="329.8" rx="1.3" ry="3.5"/><ellipse cx="354.2" rx="5" ry="4.5"/><ellipse cx="369.2" rx="3" ry="4"/><ellipse cx="420.8" rx="3" ry="4"/><ellipse cx="431.9" rx="4.5" ry="4.5"/><ellipse cx="476.5" rx="3" ry="4"/><ellipse cx="487" rx="1.3" ry="3.5"/><ellipse cx="532.3" rx="4.5" ry="4.5"/><ellipse cx="543.4" rx="1.3" ry="3.5"/><ellipse cx="567.4" rx="13.6" ry="5"/><rect class="ud" x="586.3" y="-3.5" width="87.8" height="7"/></g>
<g id="MaARF44" transform="translate(0,645)"><text class="lb k3" x="246.5" y="4">MaARF44</text><line class="in" x1="308" x2="663.6"/><ellipse cx="313.3" rx="6" ry="4.5"/><ellipse cx="324.9" rx="1.3" ry="3.5"/><ellipse cx="354.6" rx="5" ry="4.5"/><ellipse cx="370.9" rx="3" ry="4"/><ellipse cx="410.3" rx="3" ry="4"/><ellipse cx="422.1" rx="4" ry="4.5"/><ellipse cx="586.3" rx="4" ry="4.5"/><ellipse cx="597.4" rx="1.3" ry="3.5"/><ellipse cx="608.9" rx="4.5" ry="4.5"/><ellipse cx="626" rx="8.7" ry="5"/><ellipse cx="646.2" rx="4" ry="4.5"/><ellipse cx="659.4" rx="3" ry="4"/><rect class="ud" x="663" y="-3.5" width="11.1" height="7"/></g>
<g id="MaARF45" transform="translate(0,660.2)"><text class="lb k3" x="246.5" y="4">MaARF45</text><line class="in" x1="308" x2="608"/><ellipse cx="315.5" rx="8.4" ry="5"/><ellipse cx="330.9" rx="1.3" ry="3.5"/><ellipse cx="352.5" rx="5" ry="4.5"/><ellipse cx="371.6" rx="3" ry="4"/><ellipse cx="405.8" rx="3" ry="4"/><ellipse cx="417.3" rx="4.5" ry="4.5"/><ellipse cx="464" rx="3" ry="4"/><ellipse cx="474.4" rx="1.3" ry="3.5"/><ellipse cx="494.6" rx="1.3" ry="3.5"/><ellipse cx="547.9" rx="5" ry="4.5"/><ellipse cx="560.1" rx="3" ry="4"/><ellipse cx="588.1" rx="18.6" ry="5"/><rect class="ud" x="607.5" y="-3.5" width="66.6" height="7"/></g>
<g id="MaARF46" transform="translate(0,675.3)"><text class="lb k3" x="246.5" y="4">MaARF46</text><line class="in" x1="308" x2="659.4"/><ellipse cx="315.5" rx="8.4" ry="5"/><ellipse cx="331.6" rx="1.3" ry="3.5"/><ellipse cx="353.5" rx="5" ry="4.5"/><ellipse cx="370.9" rx="3" ry="4"/><ellipse cx="404.7" rx="3" ry="4"/><ellipse cx="416.2" rx="4.5" ry="4.5"/><ellipse cx="456.3" rx="3" ry="4"/><ellipse cx="465.7" rx="1.3" ry="3.5"/><ellipse cx="583.5" rx="4.5" ry="4.5"/><ellipse cx="594.6" rx="1.3" ry="3.5"/><ellipse cx="622.8" rx="19.2" ry="5"/><ellipse cx="659.4" rx="2.5" ry="4"/></g>
<g id="MaARF47" transform="translate(0,690.4)"><text class="lb k3" x="246.5" y="4">MaARF47</text><line class="in" x1="308" x2="708"/><ellipse cx="310" rx="2.5" ry="4"/><ellipse cx="316.9" rx="1.3" ry="3.5"/><ellipse cx="350.7" rx="6" ry="4.5"/><ellipse cx="364" rx="3" ry="4"/><ellipse cx="373.7" rx="1.3" ry="3.5"/><ellipse cx="402.3" rx="5" ry="4.5"/><ellipse cx="419.7" rx="3" ry="4"/><ellipse cx="453.5" rx="3" ry="4"/><ellipse cx="465.7" rx="4.5" ry="4.5"/><ellipse cx="528.4" rx="3" ry="4"/><ellipse cx="538.9" rx="1.3" ry="3.5"/><ellipse cx="615.9" rx="4.5" ry="4.5"/><ellipse cx="642.2" rx="16.9" ry="5"/><ellipse cx="671.1" rx="7.5" ry="5"/><ellipse cx="704.4" rx="1.3" ry="3.5"/><rect class="ud" x="707.9" y="-3.5" width="17.4" height="7"/></g>
<g id="MaARF13" transform="translate(0,705.5)"><text class="lb k3" x="246.5" y="4">MaARF13</text><line class="in" x1="307.5" x2="818.7"/><ellipse cx="307.5" rx="1.3" ry="3.5"/><ellipse cx="390.8" rx="7" ry="5"/><ellipse cx="405.8" rx="1.3" ry="3.5"/><ellipse cx="427.7" rx="5" ry="4.5"/><ellipse cx="443" rx="3" ry="4"/><ellipse cx="478.9" rx="3" ry="4"/><ellipse cx="490.4" rx="4.5" ry="4.5"/><ellipse cx="659.4" rx="3" ry="4"/><ellipse cx="669.9" rx="1.3" ry="3.5"/><ellipse cx="736.1" rx="4.5" ry="4.5"/><ellipse cx="749.7" rx="4.5" ry="4.5"/><ellipse cx="778.4" rx="18.3" ry="5"/><ellipse cx="818.7" rx="4.5" ry="4.5"/></g>
</g>
<g id="axis">
<path d="M306 724H834M308 720V724M365 720V724M422 720V724M479 720V724M536 720V724M593 720V724M650 720V724M707 720V724M764 720V724M821 720V724M834 720V724" stroke="#555" stroke-width="1" fill="none"/>
<text class="ax" x="298" y="717" font-size="7">5'</text>
<text class="ax" x="836" y="717" font-size="7">3'</text>
<text class="ax" x="308" y="734">0kb</text><text class="ax" x="365" y="734">1kb</text><text class="ax" x="422" y="734">2kb</text><text class="ax" x="479" y="734">3kb</text><text class="ax" x="536" y="734">4kb</text><text class="ax" x="593" y="734">5kb</text><text class="ax" x="650" y="734">6kb</text><text class="ax" x="707" y="734">7kb</text><text class="ax" x="764" y="734">8kb</text><text class="ax" x="821" y="734">9kb</text>
</g>
<g id="legend">
<ellipse cx="382" cy="752" rx="11.5" ry="5.5"/>
<text class="lg" x="398" y="757">CDS</text>
<rect class="ud" x="452" y="749" width="30" height="6.5"/>
<text class="lg" x="487" y="757">upstream/downstream</text>
<line x1="651" y1="752" x2="678" y2="752" stroke="#7a7a7a" stroke-width="1.8"/>
<text class="lg" x="680" y="757">Intron</text>
</g>
</svg>
